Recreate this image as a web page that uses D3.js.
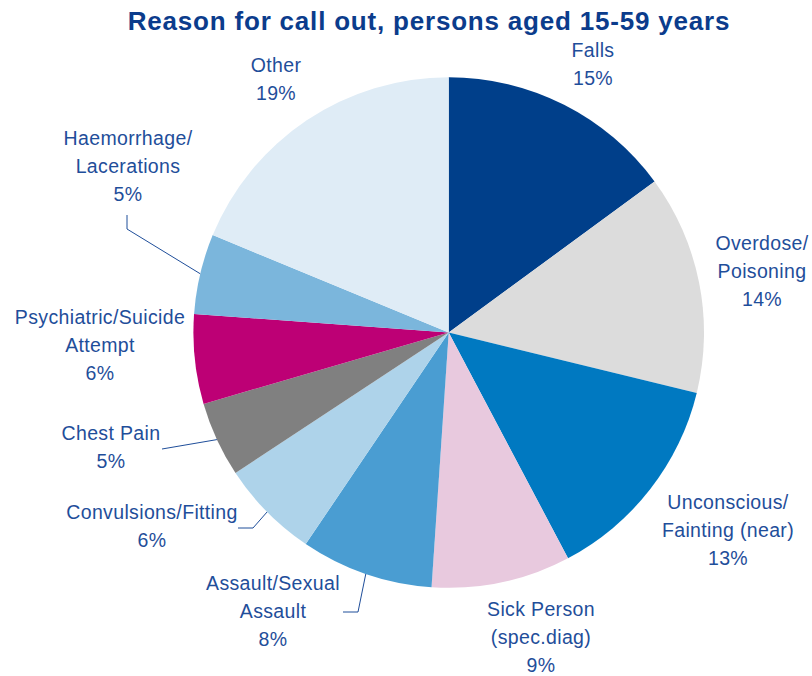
<!DOCTYPE html>
<html>
<head>
<meta charset="utf-8">
<script src="https://cdn.jsdelivr.net/npm/d3@7"></script>
<style>
  html, body { margin: 0; padding: 0; background: #ffffff; }
  svg { display: block; }
</style>
</head>
<body>
<svg id="chart" width="812" height="676"></svg>
<script>
// Share of ambulance call outs by reason, persons aged 15-59 (percent)
const categories = [
  "Falls",
  "Overdose/\nPoisoning",
  "Unconscious/\nFainting (near)",
  "Sick Person\n(spec.diag)",
  "Assault/Sexual\nAssault",
  "Convulsions/Fitting",
  "Chest Pain",
  "Psychiatric/Suicide\nAttempt",
  "Haemorrhage/\nLacerations",
  "Other"
];
const values = [14.93, 13.87, 13.46, 8.81, 8.39, 6.27, 4.76, 5.67, 5.07, 18.77];
const colors = [
  "#003f8a", "#dcdcdc", "#0079c1", "#e8c9de", "#4a9dd2",
  "#aed3ea", "#808080", "#bd0075", "#7bb6dc", "#dfecf6"
];
const title = "Reason for call out, persons aged 15-59 years";

// Label placement: first-line baseline centre, and optional leader elbow points
const labelLayout = [
  { x: 593, y: 57 },
  { x: 762, y: 250 },
  { x: 728, y: 509 },
  { x: 541, y: 616 },
  { x: 273, y: 590, leader: [[343, 612], [358, 612]] },
  { x: 152, y: 519, leader: [[238, 528], [253, 528]] },
  { x: 111, y: 440, leader: [[162, 449]] },
  { x: 100, y: 324 },
  { x: 128, y: 145, leader: [[127, 215], [127, 229]] },
  { x: 276, y: 72 }
];

const textColor = "#1f4e9a";
const fontFamily = "'Liberation Sans', Arial, Helvetica, sans-serif";
const cx = 448.7, cy = 332.5, R = 255.3;
const lineHeight = 28.2;

const svg = d3.select("#chart");

svg.append("text")
  .attr("x", 429)
  .attr("y", 29.5)
  .attr("text-anchor", "middle")
  .attr("font-family", fontFamily)
  .attr("font-weight", "bold")
  .attr("font-size", "26px")
  .attr("letter-spacing", "0.8px")
  .attr("fill", "#0b3c8c")
  .text(title);

const data = categories.map((c, i) => ({ name: c, value: values[i], color: colors[i], layout: labelLayout[i] }));
const total = d3.sum(values);

const pie = d3.pie().sort(null).value(d => d.value).startAngle(0).endAngle(2 * Math.PI);
const arcs = pie(data);

const arc = d3.arc().innerRadius(0).outerRadius(R);
const edgeArc = d3.arc().innerRadius(R).outerRadius(R);

const g = svg.append("g").attr("transform", `translate(${cx},${cy})`);

g.selectAll("path.slice")
  .data(arcs)
  .join("path")
  .attr("class", "slice")
  .attr("d", arc)
  .attr("fill", d => d.data.color);

// Leader lines from label to slice edge midpoint
const line = d3.line();
svg.selectAll("path.leader")
  .data(arcs.filter(d => d.data.layout.leader))
  .join("path")
  .attr("class", "leader")
  .attr("d", d => {
    const [ex, ey] = edgeArc.centroid(d);
    return line([...d.data.layout.leader, [cx + ex, cy + ey]]);
  })
  .attr("fill", "none")
  .attr("stroke", textColor)
  .attr("stroke-width", 1);

const pct = d3.format(".0%");
const labels = svg.selectAll("text.label")
  .data(arcs)
  .join("text")
  .attr("class", "label")
  .attr("text-anchor", "middle")
  .attr("font-family", fontFamily)
  .attr("font-size", "19.5px")
  .attr("letter-spacing", "0.35px")
  .attr("fill", textColor);

labels.each(function(d) {
  const lines = d.data.name.split("\n").concat(pct(d.data.value / total));
  const t = d3.select(this);
  lines.forEach((ln, i) => {
    t.append("tspan")
      .attr("x", d.data.layout.x)
      .attr("y", d.data.layout.y + i * lineHeight)
      .text(ln);
  });
});
</script>
</body>
</html>
